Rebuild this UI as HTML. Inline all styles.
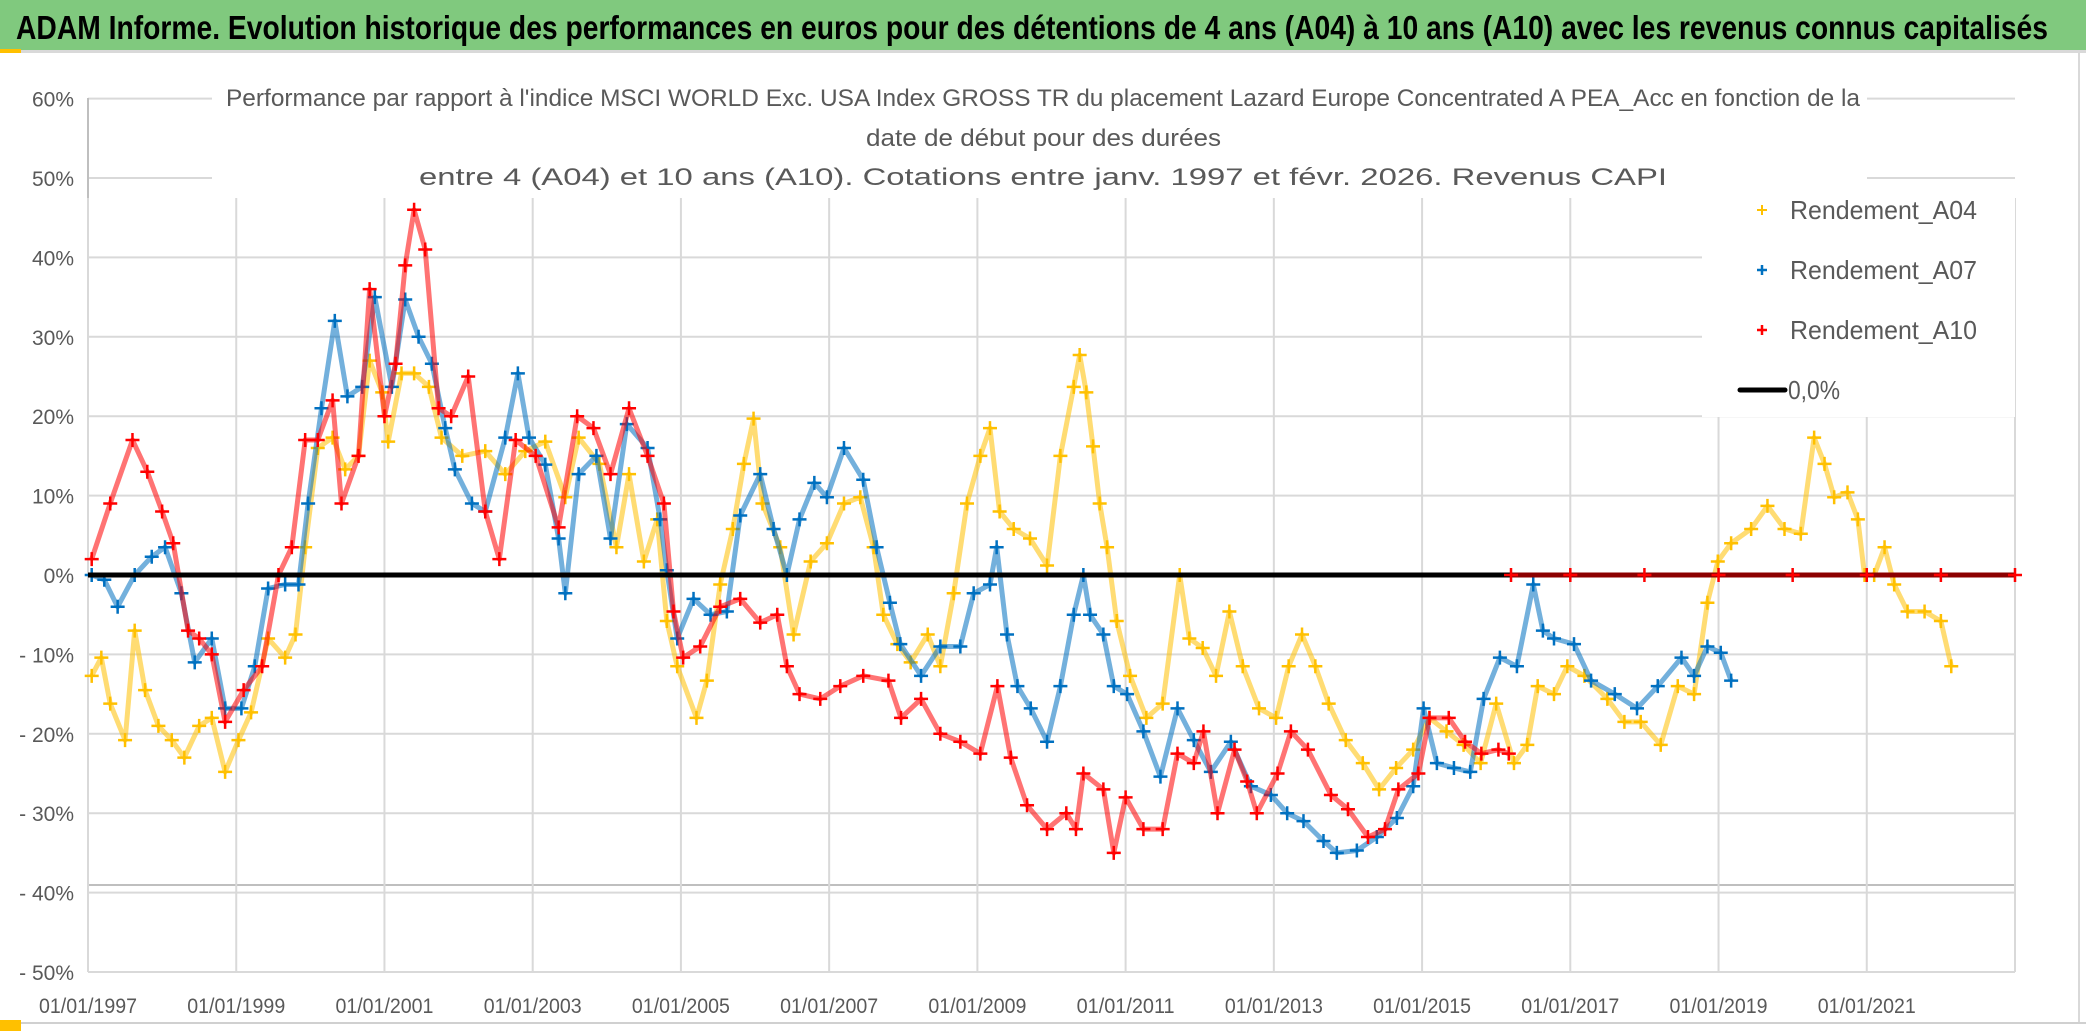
<!DOCTYPE html>
<html><head><meta charset="utf-8"><style>
html,body{margin:0;padding:0;background:#fff;}
svg{display:block;}
text{font-family:"Liberation Sans",sans-serif;}
</style></head><body>
<svg id="chart" width="2086" height="1031" viewBox="0 0 2086 1031" xmlns="http://www.w3.org/2000/svg">
<rect x="0" y="0" width="2086" height="1031" fill="#fff"/>
<rect x="0" y="0" width="2086" height="50" fill="#80c97e"/>
<rect x="0" y="50" width="2086" height="3" fill="#d9d9d9"/>
<rect x="0" y="49" width="21" height="4" fill="#ffc000"/>
<text x="16" y="39" font-size="33" font-weight="bold" fill="#000" textLength="2032" lengthAdjust="spacingAndGlyphs">ADAM Informe. Evolution historique des performances en euros pour des détentions de 4 ans (A04) à 10 ans (A10) avec les revenus connus capitalisés</text>
<rect x="2078" y="53" width="2" height="970" fill="#d9d9d9"/>
<rect x="0" y="1022" width="2086" height="2" fill="#d0d0d0"/>
<rect x="0" y="1020" width="21" height="11" fill="#ffc000"/>
<g id="grid"></g>
<g id="yaxis"></g>
<g id="xaxis"></g>
<g id="series"></g>
<rect x="212" y="85" width="1655" height="112" fill="#fff"/>
<g fill="#595959" font-size="24">
<text x="226" y="106" textLength="1634" lengthAdjust="spacingAndGlyphs">Performance par rapport à l'indice MSCI WORLD Exc. USA Index GROSS TR  du placement Lazard Europe Concentrated A PEA_Acc en fonction de la</text>
<text x="866" y="146" textLength="355" lengthAdjust="spacingAndGlyphs">date de début pour des durées</text>
<text x="419" y="185" textLength="1248" lengthAdjust="spacingAndGlyphs">entre 4 (A04) et 10 ans (A10). Cotations entre janv. 1997 et févr. 2026. Revenus CAPI</text>
</g>
<g id="legend">
<rect x="1702" y="181" width="313" height="236" fill="#fff"/>
<g>
<path d="M1757 210h10M1762 205v10" stroke="#ffc000" stroke-width="2"/>
<text x="1790" y="219" font-size="26" fill="#595959" textLength="187" lengthAdjust="spacingAndGlyphs">Rendement_A04</text></g>
<g>
<path d="M1757 270h10M1762 265v10" stroke="#0070c0" stroke-width="2.5"/>
<text x="1790" y="279" font-size="26" fill="#595959" textLength="187" lengthAdjust="spacingAndGlyphs">Rendement_A07</text></g>
<g>
<path d="M1757 330h10M1762 325v10" stroke="#ff0000" stroke-width="2.5"/>
<text x="1790" y="339" font-size="26" fill="#595959" textLength="187" lengthAdjust="spacingAndGlyphs">Rendement_A10</text></g>
<g>
<path d="M1740 390h45" stroke="#000" stroke-width="5" stroke-linecap="round"/>
<text x="1788" y="399" font-size="26" fill="#595959" textLength="52" lengthAdjust="spacingAndGlyphs">0,0%</text></g>
</g>
</svg>
<script>
const yTicks=[60,50,40,30,20,10,0,-10,-20,-30,-40,-50];
const yTickLabels=["60%","50%","40%","30%","20%","10%","0%","- 10%","- 20%","- 30%","- 40%","- 50%"];
const xTicks=[1997,1999,2001,2003,2005,2007,2009,2011,2013,2015,2017,2019,2021,2023];
const xTickLabels=["01/01/1997","01/01/1999","01/01/2001","01/01/2003","01/01/2005","01/01/2007","01/01/2009","01/01/2011","01/01/2013","01/01/2015","01/01/2017","01/01/2019","01/01/2021",""];
const a04Years=[1997.05,1997.18,1997.3,1997.5,1997.63,1997.77,1997.95,1998.13,1998.3,1998.5,1998.67,1998.85,1999.03,1999.2,1999.43,1999.66,1999.8,1999.93,2000.1,2000.3,2000.47,2000.65,2000.8,2000.97,2001.05,2001.23,2001.4,2001.6,2001.77,2002.05,2002.36,2002.63,2002.9,2003.17,2003.44,2003.62,2003.9,2004.13,2004.3,2004.5,2004.68,2004.81,2004.95,2005.21,2005.35,2005.53,2005.7,2005.85,2005.98,2006.1,2006.34,2006.52,2006.75,2006.97,2007.2,2007.42,2007.6,2007.73,2007.92,2008.1,2008.33,2008.5,2008.68,2008.86,2009.04,2009.17,2009.3,2009.49,2009.71,2009.94,2010.12,2010.3,2010.38,2010.47,2010.56,2010.65,2010.75,2010.88,2011.06,2011.28,2011.5,2011.73,2011.86,2012.04,2012.22,2012.4,2012.58,2012.8,2013.03,2013.2,2013.38,2013.56,2013.74,2013.97,2014.2,2014.42,2014.65,2014.88,2015.1,2015.33,2015.56,2015.79,2016.0,2016.24,2016.42,2016.56,2016.78,2016.96,2017.19,2017.5,2017.73,2017.95,2018.22,2018.45,2018.67,2018.85,2018.99,2019.17,2019.44,2019.66,2019.89,2020.11,2020.29,2020.43,2020.56,2020.74,2020.88,2020.97,2021.1,2021.24,2021.37,2021.55,2021.78,2022.0,2022.14];
const a04Values=[-12.7,-10.4,-16.2,-20.8,-7,-14.5,-19,-20.8,-23,-19,-18,-24.8,-20.8,-17.3,-8,-10.4,-7.5,3.5,16,17.3,13.3,15,27,23,16.8,25.4,25.4,23.7,17.3,15,15.6,12.7,15.6,16.8,9.8,17.3,14,3.5,12.7,1.7,7,-5.8,-11.5,-18,-13.3,-1.2,5.8,14,19.7,9,3.5,-7.5,1.7,4,9,9.8,3.5,-5,-8.7,-11,-7.5,-11.5,-2.3,9,15,18.5,8,5.8,4.6,1.2,15,23.7,27.7,23,16.2,9,3.5,-5.8,-12.7,-18,-16.2,0,-8,-9.2,-12.7,-4.6,-11.5,-16.8,-18,-11.5,-7.5,-11.5,-16.2,-20.8,-23.7,-27,-24.3,-22,-18,-19.7,-21.4,-23.7,-16.2,-23.7,-21.4,-14,-15,-11.5,-12.7,-15.6,-18.5,-18.5,-21.4,-14,-15,-3.5,1.7,4,5.8,8.7,5.8,5.2,17.3,14,9.8,10.4,7,0,0,3.5,-1.2,-4.6,-4.6,-5.8,-11.5];
const a07Years=[1997.05,1997.22,1997.4,1997.63,1997.86,1998.04,1998.26,1998.44,1998.67,1998.85,1999.07,1999.25,1999.43,1999.66,1999.84,1999.97,2000.15,2000.33,2000.5,2000.7,2000.87,2001.1,2001.28,2001.46,2001.64,2001.82,2001.95,2002.18,2002.36,2002.63,2002.8,2002.95,2003.17,2003.35,2003.44,2003.62,2003.86,2004.05,2004.27,2004.55,2004.72,2004.81,2004.95,2005.17,2005.4,2005.62,2005.8,2006.07,2006.25,2006.43,2006.6,2006.8,2006.97,2007.2,2007.46,2007.64,2007.82,2007.96,2008.24,2008.5,2008.77,2008.95,2009.17,2009.26,2009.4,2009.54,2009.72,2009.94,2010.12,2010.3,2010.43,2010.52,2010.7,2010.84,2011.02,2011.24,2011.47,2011.7,2011.92,2012.15,2012.42,2012.69,2012.96,2013.18,2013.4,2013.67,2013.85,2014.12,2014.39,2014.66,2014.88,2015.02,2015.2,2015.43,2015.65,2015.83,2016.05,2016.28,2016.5,2016.63,2016.78,2017.05,2017.28,2017.6,2017.9,2018.18,2018.5,2018.67,2018.85,2019.03,2019.17];
const a07Values=[0,-0.6,-4,0,2.3,3.5,-2.3,-11,-8,-16.8,-16.8,-11.5,-1.7,-1.2,-1.2,9,21,32,22.5,23.7,35,23.7,34.7,30,26.6,18.5,13.3,9,8,17.3,25.4,17.3,13.9,4.6,-2.3,12.7,15,4.6,19,16,7,0.6,-8,-3,-5,-4.6,7.5,12.7,5.8,0,7,11.6,9.8,16,12,3.5,-3.5,-8.7,-12.7,-9,-9,-2.3,-1.2,3.5,-7.5,-14,-16.8,-21,-14,-5,0,-5,-7.5,-14,-15,-19.7,-25.4,-16.8,-20.8,-24.8,-21,-26.6,-27.7,-30,-31,-33.5,-35,-34.7,-33,-30.6,-26.6,-16.8,-23.7,-24.3,-24.8,-15.6,-10.4,-11.5,-1.2,-7,-8,-8.7,-13.3,-15,-16.8,-14,-10.4,-12.7,-9,-9.8,-13.3];
const a10Years=[1997.05,1997.3,1997.6,1997.8,1998.0,1998.15,1998.35,1998.5,1998.67,1998.85,1999.1,1999.35,1999.57,1999.75,1999.93,2000.1,2000.3,2000.42,2000.65,2000.8,2001.0,2001.15,2001.28,2001.4,2001.55,2001.73,2001.9,2002.13,2002.36,2002.55,2002.77,2003.04,2003.35,2003.6,2003.82,2004.05,2004.3,2004.55,2004.77,2004.9,2005.03,2005.26,2005.53,2005.8,2006.07,2006.3,2006.43,2006.6,2006.88,2007.15,2007.46,2007.8,2007.97,2008.24,2008.5,2008.77,2009.04,2009.27,2009.45,2009.67,2009.94,2010.2,2010.33,2010.43,2010.7,2010.84,2011.0,2011.24,2011.5,2011.7,2011.92,2012.05,2012.24,2012.47,2012.64,2012.77,2013.05,2013.23,2013.46,2013.77,2014.0,2014.27,2014.5,2014.68,2014.95,2015.1,2015.36,2015.58,2015.8,2016.03,2016.17];
const a10Values=[2,9,17,13,8,4,-7,-8,-10,-18.5,-14.5,-11.5,0,3.5,17,17,22,9,15,36,20,26.6,39,46,41,21,20,25,8,2,17,15,6,20,18.5,12.7,21,15,9,-4.6,-10.4,-9,-4,-3,-6,-5,-11.5,-15,-15.6,-14,-12.7,-13.3,-18,-15.6,-20,-21,-22.5,-14,-23,-29,-32,-30,-32,-25,-27,-35,-28,-32,-32,-22.5,-23.7,-19.7,-30,-22,-26,-30,-25,-19.7,-22,-27.7,-29.5,-33,-32,-27,-25,-18,-18,-21,-22.5,-22,-22.5];
const a10ZeroYears=[2016.2,2017,2018,2019,2020,2021,2022,2023];
const a10ZeroValues=[0,0,0,0,0,0,0,0];

const NS="http://www.w3.org/2000/svg";
const X0=88,X1=2015,Y0=575,PXPCT=7.94;
function xs(yr){return X0+(yr-1997)*(X1-X0)/26;}
function ys(v){return Y0-v*PXPCT;}
function mk(tag,attrs,parent){const e=document.createElementNS(NS,tag);for(const k in attrs)e.setAttribute(k,attrs[k]);parent.appendChild(e);return e;}
const grid=document.getElementById('grid'),yax=document.getElementById('yaxis'),xax=document.getElementById('xaxis'),ser=document.getElementById('series');
yTicks.forEach((t,i)=>{
  const l=mk('line',{x1:X0,x2:X1,y1:ys(t),y2:ys(t),stroke:'#d9d9d9','stroke-width':2},grid);
  
  
  const tx=mk('text',{x:74,y:ys(t)+8,'font-size':21,fill:'#595959','text-anchor':'end'},yax);
  tx.textContent=yTickLabels[i];
  
  
});
const extra=mk('line',{x1:X0,x2:X1,y1:885,y2:885,stroke:'#bfbfbf','stroke-width':2},grid);


const ax=mk('line',{x1:X0,x2:X0,y1:98,y2:ys(-50),stroke:'#bfbfbf','stroke-width':2},grid);


xTicks.forEach((t,i)=>{
  const l=mk('line',{x1:xs(t),x2:xs(t),y1:198,y2:ys(-50),stroke:'#d9d9d9','stroke-width':2},grid);
  
  
  if(xTickLabels[i]){
    const tx=mk('text',{x:xs(t)-49,y:1013,'font-size':21,fill:'#595959',textLength:98,lengthAdjust:'spacingAndGlyphs'},xax);
    tx.textContent=xTickLabels[i];
    
    
  }
});
function drawSeries(years,vals,color,name){
  const g=mk('g',{},ser);
  
  
  const pts=years.map((y,i)=>xs(y).toFixed(1)+','+ys(vals[i]).toFixed(1)).join(' ');
  const pl=mk('polyline',{points:pts,fill:'none',stroke:color,'stroke-width':5,'stroke-linejoin':'round','stroke-opacity':0.55},g);
  
  
  let d='';
  years.forEach((y,i)=>{const px=xs(y),py=ys(vals[i]);d+=`M${px-7} ${py}h14M${px} ${py-7}v14`;});
  const p=mk('path',{d:d,stroke:color,'stroke-width':2.5,fill:'none'},g);
  
  
}
drawSeries(a04Years,a04Values,'#ffc000','series-a04');
drawSeries(a07Years,a07Values,'#0070c0','series-a07');
drawSeries(a10Years,a10Values,'#ff0000','series-a10');
const zl=mk('line',{x1:X0,x2:X1,y1:ys(0),y2:ys(0),stroke:'#000','stroke-width':5},ser);


drawSeries(a10ZeroYears,a10ZeroValues,'#ff0000','series-a10-zero');
</script>
</body></html>
